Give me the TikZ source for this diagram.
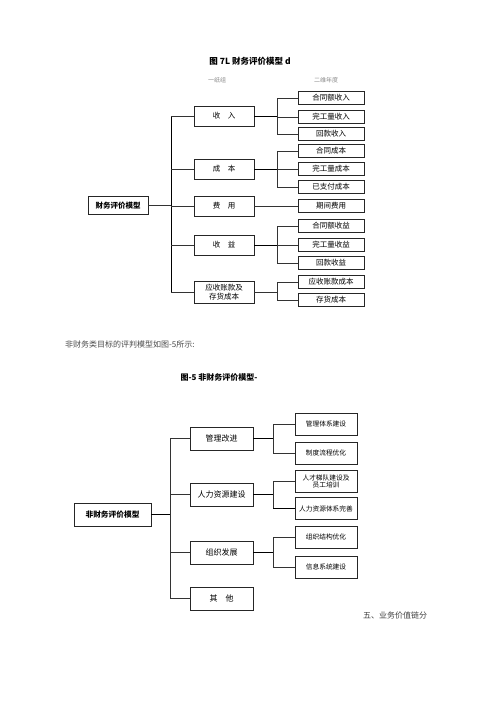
\documentclass[tikz,border=0pt]{standalone}
\usepackage{fontspec}
\setmainfont{Noto Sans CJK SC}
\newfontfamily\cjkb[BoldFont={Noto Sans CJK SC Bold}]{Noto Sans CJK SC}
\usetikzlibrary{shadows}
\begin{document}
\begin{tikzpicture}[x=1pt,y=-1pt,
  base/.style={draw=black!85,line width=0.6pt,fill=white,inner sep=0pt,align=center},
  shad/.style={drop shadow={shadow xshift=0.8pt,shadow yshift=-0.8pt,fill=black!70,opacity=1}},
  rootA/.style={base,shad,minimum width=60pt,minimum height=18pt,font=\fontsize{7.5}{8}\selectfont\bfseries},
  lvA/.style={base,shad,minimum width=60pt,minimum height=20pt,font=\fontsize{7.5}{8.5}\selectfont},
  leafA/.style={base,shad,minimum width=66pt,minimum height=12.5pt,font=\fontsize{7.5}{8}\selectfont},
  rootB/.style={base,shad,minimum width=77pt,minimum height=23pt,font=\fontsize{7.7}{8}\selectfont\bfseries},
  lvB/.style={base,shad,minimum width=63pt,minimum height=23pt,font=\fontsize{8}{9}\selectfont},
  leafB/.style={base,shad,minimum width=62pt,minimum height=22pt,font=\fontsize{6.7}{7.5}\selectfont},
  conn/.style={draw=black!80,line width=0.6pt},
  trunkline/.style={draw=black,line width=1pt},
  plain/.style={inner sep=0pt}
]
\useasboundingbox[fill=white] (0,0) rectangle (500,707);

% ---------- Diagram 1 ----------
\node[plain,font=\fontsize{8.5}{9}\selectfont\bfseries] (t1) at (250,61) {图 7L 财务评价模型 d};
\node[plain,font=\fontsize{6}{6}\selectfont,text=black!45] (h1) at (217,80) {一纸组};
\node[plain,font=\fontsize{6}{6}\selectfont,text=black!45] (h2) at (326,80) {二维年度};

\coordinate (trA) at (171,0);
\coordinate (brA) at (277,0);

\node[rootA] (A) at (118,205.5) {财务评价模型};

\node[lvA] (A1) at (224,116) {收\quad 入};
\node[lvA] (A2) at (224,169) {成\quad 本};
\node[lvA] (A3) at (224,206) {费\quad 用};
\node[lvA] (A4) at (224,245) {收\quad 益};
\node[lvA,minimum height=22pt] (A5) at (224,292) {应收账款及\\存货成本};

\node[leafA] (A11) at (331,98) {合同额收入};
\node[leafA] (A12) at (331,117) {完工量收入};
\node[leafA] (A13) at (331,134) {回款收入};
\node[leafA] (A21) at (331,151) {合同成本};
\node[leafA] (A22) at (331,169) {完工量成本};
\node[leafA] (A23) at (331,187) {已支付成本};
\node[leafA] (A31) at (331,206) {期间费用};
\node[leafA] (A41) at (331,226) {合同额收益};
\node[leafA] (A42) at (331,245) {完工量收益};
\node[leafA] (A43) at (331,263) {回款收益};
\node[leafA] (A51) at (331,282) {应收账款成本};
\node[leafA] (A52) at (331,300) {存货成本};

\draw[conn] (A.east) -- (trA |- A.east);
\draw[trunkline] (trA |- A1.west) -- (trA |- A5.west);
\foreach \n in {A1,A2,A3,A4,A5} \draw[conn] (trA |- \n.west) -- (\n.west);

\draw[trunkline,line width=0.8pt] (A1.east) -- (brA |- A1.east);
\draw[conn] (brA |- A11.west) -- (brA |- A13.west);
\foreach \n in {A11,A12,A13} \draw[conn] (brA |- \n.west) -- (\n.west);

\draw[trunkline,line width=0.8pt] (A2.east) -- (brA |- A2.east);
\draw[conn] (brA |- A21.west) -- (brA |- A23.west);
\foreach \n in {A21,A22,A23} \draw[conn] (brA |- \n.west) -- (\n.west);

\draw[conn] (A3.east) -- (A31.west);

\draw[trunkline,line width=0.8pt] (A4.east) -- (brA |- A4.east);
\draw[conn] (brA |- A41.west) -- (brA |- A43.west);
\foreach \n in {A41,A42,A43} \draw[conn] (brA |- \n.west) -- (\n.west);

\draw[conn] (A5.east) -- (brA |- A5.east);
\draw[conn] (brA |- A51.west) -- (brA |- A52.west);
\foreach \n in {A51,A52} \draw[conn] (brA |- \n.west) -- (\n.west);

% ---------- Text between ----------
\node[plain,anchor=west,font=\fontsize{8}{8}\selectfont,text=black!70] (p1) at (65,344) {非财务类目标的评判模型如图-5所示:};

% ---------- Diagram 2 ----------
\node[plain,font=\fontsize{8}{8}\selectfont\bfseries] (t2) at (219,377) {图-5 非财务评价模型-};

\coordinate (trB) at (170,0);
\coordinate (brB) at (273,0);

\node[rootB] (B) at (112.5,514.5) {非财务评价模型};

\node[lvB] (B1) at (221.5,438.5) {管理改进};
\node[lvB] (B2) at (221.5,494.5) {人力资源建设};
\node[lvB] (B3) at (221.5,552.5) {组织发展};
\node[lvB] (B4) at (221.5,598.5) {其\quad 他};

\node[leafB] (B11) at (326,424) {管理体系建设};
\node[leafB] (B12) at (326,453) {制度流程优化};
\node[leafB] (B21) at (326,481.5) {人才梯队建设及\\员工培训};
\node[leafB] (B22) at (326,508.5) {人力资源体系完善};
\node[leafB] (B31) at (326,537) {组织结构优化};
\node[leafB] (B32) at (326,567) {信息系统建设};

\draw[trunkline] (B.east) -- (trB |- B.east);
\draw[conn] (trB |- B1.west) -- (trB |- B4.west);
\foreach \n in {B1,B2,B3,B4} \draw[conn] (trB |- \n.west) -- (\n.west);

\draw[trunkline] (B1.east) -- (brB |- B1.east);
\draw[conn] (brB |- B11.west) -- (brB |- B12.west);
\foreach \n in {B11,B12} \draw[conn] (brB |- \n.west) -- (\n.west);

\draw[trunkline] (B2.east) -- (brB |- B2.east);
\draw[conn] (brB |- B21.west) -- (brB |- B22.west);
\draw[conn] (brB |- B21.west) -- (B21.west);
\draw[trunkline] (brB |- B22.west) -- (B22.west);

\draw[trunkline] (B3.east) -- (brB |- B3.east);
\draw[conn] (brB |- B31.west) -- (brB |- B32.west);
\foreach \n in {B31,B32} \draw[conn] (brB |- \n.west) -- (\n.west);

\node[plain,anchor=west,font=\fontsize{8}{8}\selectfont,text=black!75] (p2) at (363,615) {五、业务价值链分};
\end{tikzpicture}
\end{document}
